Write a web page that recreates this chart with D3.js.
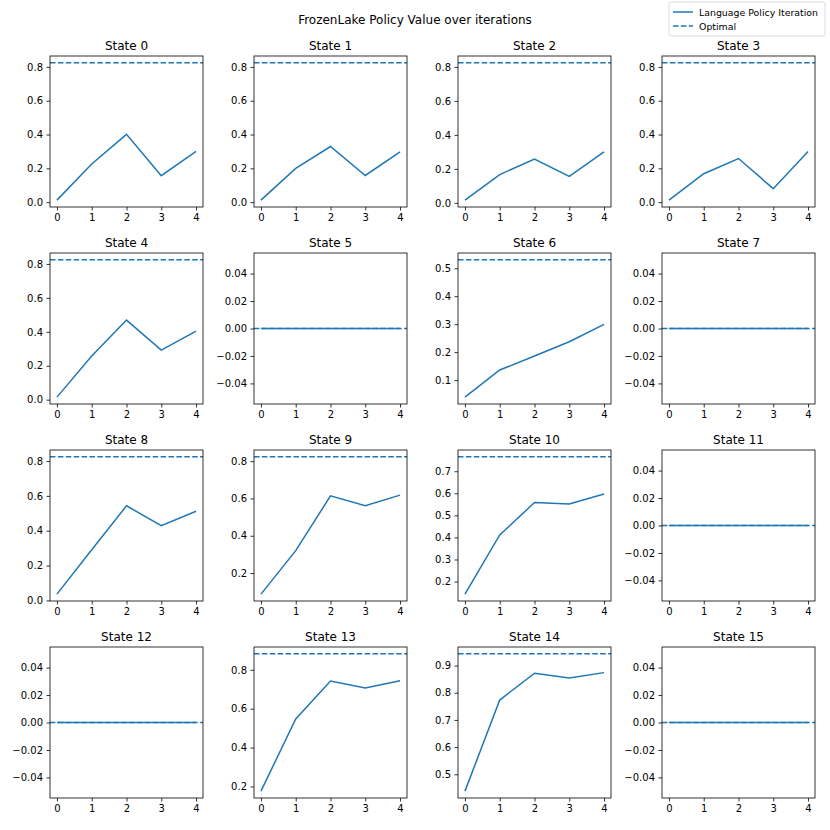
<!DOCTYPE html>
<html>
<head>
<meta charset="utf-8">
<script src="https://cdn.jsdelivr.net/npm/d3@7"></script>
<style>
  body { margin: 0; background: #fff; }
  text { font-family: "DejaVu Sans", sans-serif; fill: #000; }
</style>
</head>
<body>
<svg id="chart" width="830" height="830"></svg>
<script>
const [W, H] = [830, 830];

const iterations = [0, 1, 2, 3, 4];
const states = d3.range(16);

// value of the language policy at each iteration, per state
const policyValues = [
  [0.012, 0.226, 0.401, 0.157, 0.300],
  [0.012, 0.200, 0.329, 0.158, 0.298],
  [0.016, 0.166, 0.258, 0.156, 0.300],
  [0.012, 0.168, 0.258, 0.080, 0.300],
  [0.015, 0.257, 0.469, 0.292, 0.404],
  [0, 0, 0, 0, 0],
  [0.039, 0.136, 0.186, 0.237, 0.299],
  [0, 0, 0, 0, 0],
  [0.036, 0.291, 0.543, 0.429, 0.512],
  [0.087, 0.320, 0.614, 0.561, 0.618],
  [0.143, 0.411, 0.558, 0.551, 0.597],
  [0, 0, 0, 0, 0],
  [0, 0, 0, 0, 0],
  [0.176, 0.547, 0.742, 0.706, 0.744],
  [0.438, 0.773, 0.872, 0.854, 0.874],
  [0, 0, 0, 0, 0]
];

const optimalValues = [0.824, 0.824, 0.824, 0.824, 0.824, 0, 0.530, 0,
                       0.824, 0.823, 0.765, 0, 0, 0.882, 0.943, 0];

const seriesNames = ["Language Policy Iteration", "Optimal"];
const titleText = "FrozenLake Policy Value over iterations";

const blue = "#1f77b4";
const dash = "5.5,2.4";

const svg = d3.select("#chart");

const [left0, top0, colStep, rowStep, pw, ph] = [50, 56, 204, 197, 153, 151];

svg.append("text")
  .attr("x", 415).attr("y", 24)
  .attr("text-anchor", "middle")
  .style("font-size", "12px")
  .text(titleText);

states.forEach(s => {
  const col = s % 4, row = Math.floor(s / 4);
  const g = svg.append("g")
    .attr("transform", `translate(${left0 + col * colStep},${top0 + row * rowStep})`);

  const vals = policyValues[s].concat([optimalValues[s]]);
  let [lo, hi] = d3.extent(vals);
  if (lo === hi) { lo -= 0.05; hi += 0.05; }
  const pad = (hi - lo) * 0.05;

  const x = d3.scaleLinear().domain([-0.2, 4.2]).range([0, pw]);
  const y = d3.scaleLinear().domain([lo - pad, hi + pad]).range([ph, 0]);

  const yTicks = y.ticks(5);
  const step = d3.tickStep(lo - pad, hi + pad, 5);
  const fmt = d3.format("." + d3.precisionFixed(step) + "f");

  const xAxis = g.append("g").attr("transform", `translate(0,${ph})`)
    .call(d3.axisBottom(x).tickValues(iterations).tickSize(3.5).tickPadding(3.5).tickFormat(d3.format("d")));
  const yAxis = g.append("g")
    .call(d3.axisLeft(y).tickValues(yTicks).tickSize(3.5).tickPadding(3.5)
      .tickFormat(d => fmt(d).replace("-", "\u2212")));
  [xAxis, yAxis].forEach(a => {
    a.select(".domain").remove();
    a.selectAll(".tick line").attr("stroke", "#000").attr("stroke-width", 0.8);
    a.selectAll(".tick text").style("font-size", "10px").style("font-family", "DejaVu Sans").attr("fill", "#000");
  });

  g.append("line")
    .attr("x1", 0).attr("x2", pw)
    .attr("y1", y(optimalValues[s])).attr("y2", y(optimalValues[s]))
    .attr("stroke", blue).attr("stroke-width", 1.5).attr("stroke-dasharray", dash);

  g.append("path")
    .datum(policyValues[s])
    .attr("fill", "none").attr("stroke", blue).attr("stroke-width", 1.5)
    .attr("d", d3.line().x((d, i) => x(iterations[i])).y(d => y(d)));

  g.append("rect")
    .attr("width", pw).attr("height", ph)
    .attr("fill", "none").attr("stroke", "#000").attr("stroke-width", 0.8);

  g.append("text")
    .attr("x", pw / 2).attr("y", -6)
    .attr("text-anchor", "middle")
    .style("font-size", "12px")
    .text("State " + s);
});

// legend
const lg = svg.append("g").attr("transform", "translate(669,2)");
lg.append("rect")
  .attr("width", 156).attr("height", 34).attr("rx", 2.5)
  .attr("fill", "#fff").attr("stroke", "#d0d0d0").attr("stroke-width", 0.8);
seriesNames.forEach((name, i) => {
  const yy = 10 + i * 14;
  lg.append("line")
    .attr("x1", 4).attr("x2", 24).attr("y1", yy).attr("y2", yy)
    .attr("stroke", blue).attr("stroke-width", 1.5)
    .attr("stroke-dasharray", i === 1 ? dash : null);
  lg.append("text")
    .attr("x", 30).attr("y", yy + 3.5)
    .style("font-size", "9.4px")
    .text(name);
});
</script>
</body>
</html>
